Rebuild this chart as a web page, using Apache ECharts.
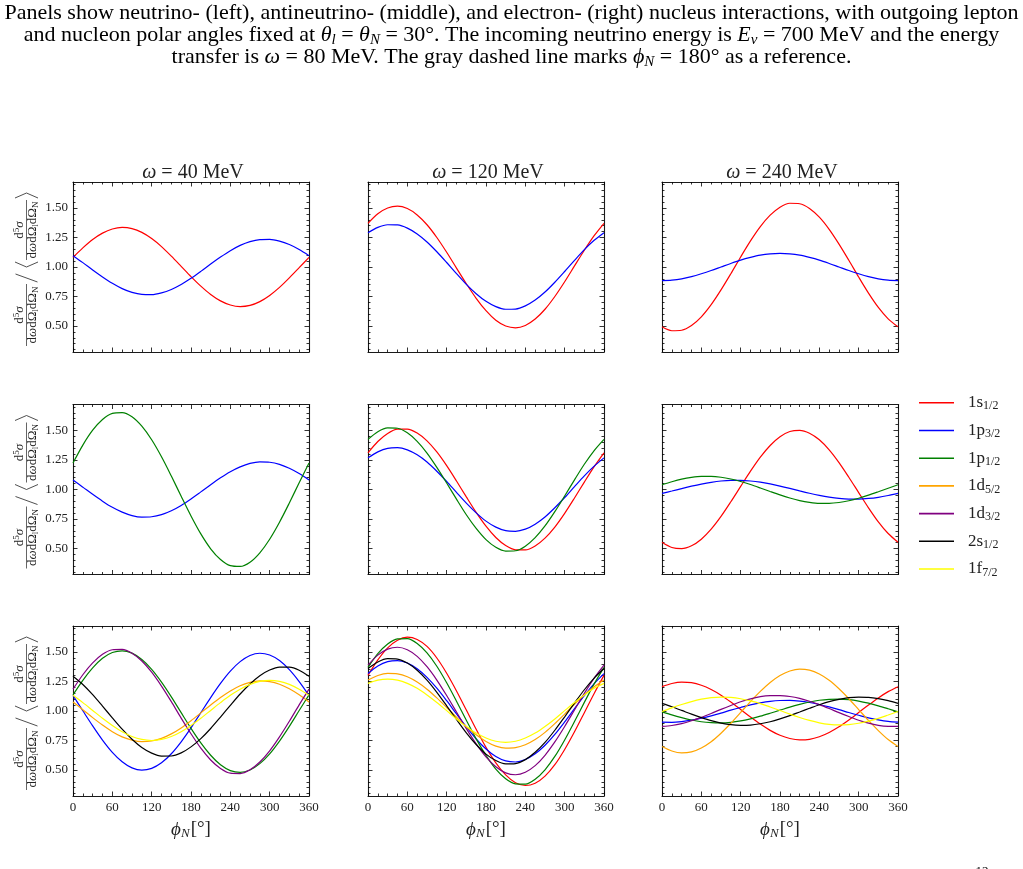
<!DOCTYPE html>
<html>
<head>
<meta charset="utf-8">
<script src="https://cdn.jsdelivr.net/npm/echarts@6/dist/echarts.min.js"></script>
<style>
  html, body { margin: 0; padding: 0; background: #fff; }
  #main { width: 1023px; height: 869px; }
</style>
</head>
<body>
<div id="main"></div>
<script>
// azimuthal angle of the nucleon, degrees (15 deg steps)
var phiDeg = [0, 15, 30, 45, 60, 75, 90, 105, 120, 135, 150, 165, 180,
              195, 210, 225, 240, 255, 270, 285, 300, 315, 330, 345, 360];
var omegaMeV = [40, 120, 240];
var xTickStep = 60;
var yMajorTicks = [0.5, 0.75, 1.0, 1.25, 1.5];
var yMinorTicks = [0.3, 0.35, 0.4, 0.45, 0.55, 0.6, 0.65, 0.7, 0.8, 0.85, 0.9, 0.95,
                   1.05, 1.1, 1.15, 1.2, 1.3, 1.35, 1.4, 1.45, 1.55, 1.6, 1.65, 1.7];

// row 1
var r1c1_1s12 = [1.081, 1.162, 1.233, 1.287, 1.322, 1.335, 1.325, 1.293, 1.241, 1.173, 1.092, 1.006, 0.919,
                 0.838, 0.767, 0.713, 0.678, 0.665, 0.675, 0.707, 0.759, 0.827, 0.908, 0.994, 1.081];
var r1c1_1p32 = [1.096, 1.037, 0.975, 0.916, 0.862, 0.817, 0.785, 0.768, 0.766, 0.781, 0.81, 0.852, 0.904,
                 0.963, 1.025, 1.084, 1.138, 1.183, 1.215, 1.232, 1.234, 1.219, 1.19, 1.148, 1.096];
var r1c2_1s12 = [1.370, 1.451, 1.500, 1.515, 1.495, 1.441, 1.358, 1.250, 1.125, 0.991, 0.858, 0.735, 0.630,
                 0.549, 0.500, 0.485, 0.505, 0.559, 0.642, 0.750, 0.875, 1.009, 1.142, 1.265, 1.370];
var r1c2_1p32 = [1.291, 1.336, 1.358, 1.356, 1.329, 1.280, 1.212, 1.129, 1.038, 0.944, 0.853, 0.774, 0.709,
                 0.664, 0.642, 0.644, 0.671, 0.720, 0.788, 0.871, 0.962, 1.056, 1.147, 1.226, 1.291];
var r1c3_1s12 = [0.493, 0.460, 0.464, 0.504, 0.578, 0.681, 0.806, 0.943, 1.085, 1.221, 1.342, 1.439, 1.507,
                 1.540, 1.536, 1.496, 1.422, 1.319, 1.194, 1.057, 0.915, 0.779, 0.658, 0.561, 0.493];
var r1c3_1p32 = [0.885, 0.889, 0.900, 0.919, 0.943, 0.970, 1.0, 1.030, 1.058, 1.081, 1.100, 1.111, 1.115,
                 1.111, 1.100, 1.081, 1.058, 1.030, 1.0, 0.970, 0.943, 0.919, 0.900, 0.889, 0.885];
// row 2
var r2c1_1p32 = [1.080, 1.020, 0.959, 0.901, 0.849, 0.808, 0.779, 0.766, 0.769, 0.787, 0.820, 0.865, 0.920,
                 0.980, 1.041, 1.099, 1.151, 1.192, 1.221, 1.234, 1.231, 1.213, 1.180, 1.135, 1.080];
var r2c1_1p12 = [1.224, 1.376, 1.502, 1.593, 1.645, 1.652, 1.616, 1.536, 1.421, 1.277, 1.114, 0.943, 0.776,
                 0.624, 0.498, 0.407, 0.355, 0.348, 0.384, 0.464, 0.579, 0.723, 0.886, 1.057, 1.224];
var r2c2_1s12 = [1.311, 1.407, 1.475, 1.511, 1.512, 1.478, 1.412, 1.318, 1.202, 1.072, 0.937, 0.806, 0.689,
                 0.593, 0.525, 0.489, 0.488, 0.522, 0.588, 0.682, 0.798, 0.928, 1.063, 1.194, 1.311];
var r2c2_1p32 = [1.268, 1.319, 1.349, 1.354, 1.336, 1.294, 1.233, 1.155, 1.068, 0.975, 0.884, 0.802, 0.732,
                 0.681, 0.651, 0.646, 0.664, 0.706, 0.767, 0.845, 0.932, 1.025, 1.116, 1.198, 1.268];
var r2c2_1p12 = [1.425, 1.490, 1.522, 1.519, 1.480, 1.408, 1.309, 1.188, 1.055, 0.918, 0.786, 0.670, 0.575,
                 0.510, 0.478, 0.481, 0.520, 0.592, 0.691, 0.812, 0.945, 1.082, 1.214, 1.330, 1.425];
var r2c3_1s12 = [0.553, 0.509, 0.499, 0.523, 0.579, 0.664, 0.772, 0.896, 1.026, 1.155, 1.274, 1.373, 1.447,
                 1.491, 1.501, 1.477, 1.421, 1.336, 1.228, 1.104, 0.974, 0.845, 0.726, 0.627, 0.553];
var r2c3_1p32 = [0.967, 0.987, 1.008, 1.028, 1.046, 1.061, 1.072, 1.077, 1.077, 1.072, 1.062, 1.047, 1.029,
                 1.009, 0.988, 0.968, 0.950, 0.935, 0.924, 0.919, 0.919, 0.924, 0.934, 0.949, 0.967];
var r2c3_1p12 = [1.040, 1.066, 1.088, 1.103, 1.111, 1.111, 1.104, 1.089, 1.068, 1.042, 1.013, 0.983, 0.954,
                 0.928, 0.906, 0.891, 0.883, 0.883, 0.890, 0.905, 0.926, 0.952, 0.981, 1.011, 1.040];
// row 3
var r3c1_1p32 = [1.131, 1.002, 0.874, 0.754, 0.650, 0.570, 0.518, 0.499, 0.514, 0.561, 0.638, 0.739, 0.857,
                 0.986, 1.114, 1.234, 1.338, 1.418, 1.470, 1.489, 1.474, 1.427, 1.350, 1.249, 1.131];
var r3c1_1p12 = [1.137, 1.260, 1.365, 1.446, 1.495, 1.510, 1.490, 1.436, 1.353, 1.245, 1.120, 0.986, 0.853,
                 0.730, 0.625, 0.544, 0.495, 0.480, 0.500, 0.554, 0.637, 0.745, 0.870, 1.004, 1.137];
var r3c1_1d52 = [1.077, 1.011, 0.944, 0.881, 0.825, 0.781, 0.753, 0.740, 0.746, 0.768, 0.806, 0.857, 0.918,
                 0.984, 1.051, 1.114, 1.170, 1.214, 1.242, 1.255, 1.249, 1.227, 1.189, 1.138, 1.077];
var r3c1_1d32 = [1.185, 1.307, 1.407, 1.480, 1.519, 1.522, 1.490, 1.424, 1.329, 1.211, 1.079, 0.940, 0.807,
                 0.685, 0.585, 0.513, 0.473, 0.470, 0.502, 0.568, 0.663, 0.781, 0.913, 1.052, 1.185];
var r3c1_2s12 = [1.294, 1.224, 1.138, 1.041, 0.942, 0.846, 0.761, 0.691, 0.643, 0.618, 0.619, 0.645, 0.696,
                 0.766, 0.852, 0.949, 1.048, 1.144, 1.229, 1.299, 1.347, 1.372, 1.371, 1.345, 1.294];
var r3c1_1f72 = [1.133, 1.071, 1.005, 0.939, 0.878, 0.825, 0.784, 0.759, 0.750, 0.759, 0.784, 0.825, 0.878,
                 0.939, 1.005, 1.071, 1.133, 1.185, 1.226, 1.251, 1.260, 1.251, 1.226, 1.185, 1.133];

var r3c2_1s12 = [1.302, 1.433, 1.535, 1.600, 1.625, 1.606, 1.547, 1.449, 1.320, 1.170, 1.008, 0.845, 0.692,
                 0.561, 0.459, 0.393, 0.369, 0.388, 0.448, 0.545, 0.674, 0.824, 0.986, 1.149, 1.302];
var r3c2_1p32 = [1.317, 1.381, 1.418, 1.427, 1.406, 1.358, 1.285, 1.193, 1.087, 0.975, 0.865, 0.763, 0.678,
                 0.614, 0.577, 0.568, 0.589, 0.637, 0.710, 0.802, 0.908, 1.020, 1.130, 1.232, 1.317];
var r3c2_1p12 = [1.370, 1.486, 1.568, 1.611, 1.613, 1.572, 1.492, 1.379, 1.239, 1.083, 0.921, 0.764, 0.624,
                 0.508, 0.426, 0.383, 0.381, 0.422, 0.502, 0.615, 0.755, 0.911, 1.073, 1.230, 1.370];
var r3c2_1d52 = [1.262, 1.301, 1.319, 1.315, 1.290, 1.246, 1.185, 1.111, 1.030, 0.947, 0.867, 0.798, 0.742,
                 0.703, 0.685, 0.689, 0.714, 0.758, 0.819, 0.893, 0.974, 1.057, 1.137, 1.206, 1.262];
var r3c2_1d32 = [1.388, 1.473, 1.524, 1.540, 1.519, 1.463, 1.375, 1.262, 1.131, 0.991, 0.851, 0.722, 0.612,
                 0.528, 0.476, 0.460, 0.481, 0.537, 0.625, 0.738, 0.869, 1.009, 1.149, 1.278, 1.388];
var r3c2_2s12 = [1.360, 1.415, 1.443, 1.440, 1.406, 1.345, 1.261, 1.158, 1.044, 0.928, 0.815, 0.716, 0.635,
                 0.580, 0.552, 0.555, 0.588, 0.650, 0.734, 0.837, 0.951, 1.067, 1.180, 1.279, 1.360];
var r3c2_1f72 = [1.234, 1.261, 1.270, 1.261, 1.234, 1.192, 1.136, 1.072, 1.003, 0.933, 0.869, 0.813, 0.771,
                 0.744, 0.735, 0.744, 0.771, 0.813, 0.869, 0.933, 1.003, 1.072, 1.136, 1.192, 1.234];

var r3c3_1s12 = [1.206, 1.233, 1.245, 1.240, 1.218, 1.182, 1.134, 1.076, 1.013, 0.949, 0.889, 0.836, 0.794,
                 0.767, 0.755, 0.760, 0.782, 0.818, 0.866, 0.924, 0.987, 1.051, 1.111, 1.164, 1.206];
var r3c3_1p32 = [0.905, 0.904, 0.910, 0.922, 0.939, 0.959, 0.982, 1.007, 1.030, 1.052, 1.069, 1.082, 1.089,
                 1.090, 1.084, 1.072, 1.055, 1.035, 1.012, 0.987, 0.964, 0.942, 0.925, 0.912, 0.905];
var r3c3_1p12 = [0.993, 0.967, 0.944, 0.924, 0.909, 0.901, 0.899, 0.904, 0.916, 0.934, 0.956, 0.981, 1.007,
                 1.033, 1.056, 1.076, 1.091, 1.099, 1.101, 1.096, 1.084, 1.066, 1.044, 1.019, 0.993];
var r3c3_1d52 = [0.699, 0.661, 0.645, 0.654, 0.687, 0.740, 0.812, 0.896, 0.988, 1.080, 1.166, 1.242, 1.301,
                 1.339, 1.355, 1.346, 1.313, 1.260, 1.188, 1.104, 1.012, 0.920, 0.834, 0.758, 0.699];
var r3c3_1d32 = [0.869, 0.877, 0.893, 0.917, 0.946, 0.979, 1.014, 1.047, 1.078, 1.103, 1.121, 1.130, 1.131,
                 1.123, 1.107, 1.083, 1.054, 1.021, 0.986, 0.953, 0.922, 0.897, 0.879, 0.870, 0.869];
var r3c3_2s12 = [1.064, 1.036, 1.005, 0.973, 0.944, 0.918, 0.898, 0.884, 0.879, 0.881, 0.892, 0.909, 0.933,
                 0.961, 0.992, 1.023, 1.053, 1.079, 1.099, 1.113, 1.118, 1.116, 1.105, 1.088, 1.064];
var r3c3_1f72 = [0.996, 1.027, 1.055, 1.080, 1.100, 1.113, 1.118, 1.115, 1.104, 1.086, 1.063, 1.034, 1.004,
                 0.973, 0.945, 0.920, 0.900, 0.887, 0.882, 0.885, 0.896, 0.914, 0.937, 0.966, 0.996];

var stateKeys = ['1s12', '1p32', '1p12', '1d52', '1d32', '2s12', '1f72'];
var stateLabels = {
  '1s12': ['1s', '1/2'], '1p32': ['1p', '3/2'], '1p12': ['1p', '1/2'], '1d52': ['1d', '5/2'],
  '1d32': ['1d', '3/2'], '2s12': ['2s', '1/2'], '1f72': ['1f', '7/2']
};
var stateColors = {
  '1s12': '#ff0000', '1p32': '#0000ff', '1p12': '#008000', '1d52': '#ffa500',
  '1d32': '#800080', '2s12': '#000000', '1f72': '#ffff00'
};

var panels = [
  { row: 0, col: 0, curves: [['1s12', r1c1_1s12], ['1p32', r1c1_1p32]] },
  { row: 0, col: 1, curves: [['1s12', r1c2_1s12], ['1p32', r1c2_1p32]] },
  { row: 0, col: 2, curves: [['1s12', r1c3_1s12], ['1p32', r1c3_1p32]] },
  { row: 1, col: 0, curves: [['1p32', r2c1_1p32], ['1p12', r2c1_1p12]] },
  { row: 1, col: 1, curves: [['1s12', r2c2_1s12], ['1p32', r2c2_1p32], ['1p12', r2c2_1p12]] },
  { row: 1, col: 2, curves: [['1s12', r2c3_1s12], ['1p32', r2c3_1p32], ['1p12', r2c3_1p12]] },
  { row: 2, col: 0, curves: [['1p32', r3c1_1p32], ['1p12', r3c1_1p12], ['1d52', r3c1_1d52],
                             ['1d32', r3c1_1d32], ['2s12', r3c1_2s12], ['1f72', r3c1_1f72]] },
  { row: 2, col: 1, curves: [['1s12', r3c2_1s12], ['1p32', r3c2_1p32], ['1p12', r3c2_1p12], ['1d52', r3c2_1d52],
                             ['1d32', r3c2_1d32], ['2s12', r3c2_2s12], ['1f72', r3c2_1f72]] },
  { row: 2, col: 2, curves: [['1s12', r3c3_1s12], ['1p32', r3c3_1p32], ['1p12', r3c3_1p12], ['1d52', r3c3_1d52],
                             ['1d32', r3c3_1d32], ['2s12', r3c3_2s12], ['1f72', r3c3_1f72]] }
];

var FONT = 'Liberation Serif';
var colLeft = [73, 368, 662];
var rowTop = [182, 404.5, 626];
var panelW = 236, panelH = 170;
var yMin = 0.28, yMax = 1.72;

var grids = [], xAxes = [], yAxes = [], series = [], titles = [];
var frameLine = { show: true, onZero: false, lineStyle: { color: '#1a1a1a', width: 1.1 } };
var tickStyle = { color: '#000', width: 0.8 };

panels.forEach(function (p, i) {
  grids.push({ left: colLeft[p.col], top: rowTop[p.row], width: panelW, height: panelH });
  var bottomRow = p.row === 2;
  xAxes.push({
    gridIndex: i, type: 'value', position: 'bottom', min: 0, max: 360, interval: xTickStep,
    axisLine: frameLine,
    axisTick: { show: true, inside: true, length: 4.5, lineStyle: tickStyle },
    minorTick: { show: true, splitNumber: 4, length: 2.5, lineStyle: tickStyle },
    axisLabel: { show: bottomRow, fontFamily: FONT, fontSize: 13, color: '#222', margin: 5 },
    splitLine: { show: false },
    name: bottomRow ? '{i|ϕ}{sb|N}[°]' : '',
    nameLocation: 'middle', nameGap: 23,
    nameTextStyle: {
      fontFamily: FONT, fontSize: 19, color: '#222',
      rich: {
        i: { fontFamily: FONT, fontSize: 19, fontStyle: 'italic', color: '#222' },
        sb: { fontFamily: FONT, fontSize: 13, fontStyle: 'italic', color: '#222', padding: [8, 1, 0, 0] }
      }
    }
  });
  xAxes.push({
    gridIndex: i, type: 'value', position: 'top', min: 0, max: 360, interval: xTickStep,
    axisLine: frameLine,
    axisTick: { show: true, inside: true, length: 4.5, lineStyle: tickStyle },
    minorTick: { show: true, splitNumber: 4, length: 2.5, lineStyle: tickStyle },
    axisLabel: { show: false }, splitLine: { show: false }
  });
  ['left', 'right'].forEach(function (side) {
    var labelled = side === 'left' && p.col === 0;
    yAxes.push({
      gridIndex: i, type: 'value', position: side, min: yMin, max: yMax,
      axisLine: frameLine,
      axisTick: { show: true, inside: true, length: 4.5, lineStyle: tickStyle, customValues: yMajorTicks },
      axisLabel: {
        show: labelled, customValues: yMajorTicks, fontFamily: FONT, fontSize: 13, color: '#222', margin: 5,
        formatter: function (v) { return v.toFixed(2); }
      },
      splitLine: { show: false }
    });
    yAxes.push({
      gridIndex: i, type: 'value', position: side, min: yMin, max: yMax,
      axisLine: { show: false, onZero: false },
      axisTick: { show: true, inside: true, length: 2.5, lineStyle: tickStyle, customValues: yMinorTicks },
      axisLabel: { show: false }, splitLine: { show: false }
    });
  });
  p.curves.forEach(function (c) {
    var vals = c[1];
    series.push({
      name: c[0], type: 'line', xAxisIndex: 2 * i, yAxisIndex: 4 * i,
      data: phiDeg.map(function (ph, k) { return [ph, vals[k]]; }),
      smooth: 0.3, symbol: 'none', showSymbol: false,
      lineStyle: { color: stateColors[c[0]], width: 1.2 },
      itemStyle: { color: stateColors[c[0]] },
      z: 2 + stateKeys.indexOf(c[0])
    });
  });
});

omegaMeV.forEach(function (w, c) {
  titles.push({
    text: '{i|ω} = ' + w + ' MeV',
    left: colLeft[c] + panelW / 2 - 3, top: 158, textAlign: 'center',
    textStyle: {
      fontFamily: FONT, fontSize: 20, fontWeight: 'normal', color: '#222',
      rich: { i: { fontFamily: FONT, fontSize: 20, fontStyle: 'italic', color: '#222' } }
    }
  });
});

// rotated y axis label: fraction / < fraction >
function yLabel(cx, cy) {
  var rich = {
    sup: { fontFamily: FONT, fontSize: 9, padding: [0, 0, 6, 0], fill: '#222' },
    g: { fontFamily: FONT, fontSize: 13, fontStyle: 'italic', fill: '#222' },
    sb: { fontFamily: FONT, fontSize: 9, padding: [5, 0, 0, 0], fill: '#222' }
  };
  function frac(x0, len) {
    return [
      { type: 'text', style: { text: 'd{sup|5}{g|σ}', x: x0, y: -6.5, align: 'center', verticalAlign: 'middle',
        fontFamily: FONT, fontSize: 13, fill: '#222', rich: rich } },
      { type: 'line', shape: { x1: x0 - len / 2, y1: 0, x2: x0 + len / 2, y2: 0 },
        style: { stroke: '#222', lineWidth: 0.7 } },
      { type: 'text', style: { text: 'd{g|ω}dΩ{sb|l}dΩ{sb|N}', x: x0, y: 6.5, align: 'center', verticalAlign: 'middle',
        fontFamily: FONT, fontSize: 13, fill: '#222', rich: rich } }
    ];
  }
  var kids = frac(-50, 62).concat(frac(35, 60));
  kids.push({ type: 'line', shape: { x1: -17, y1: 11, x2: -9, y2: -11 }, style: { stroke: '#222', lineWidth: 0.8 } });
  kids.push({ type: 'polyline', shape: { points: [[3, -11.5], [-2, 0], [3, 11.5]] }, style: { stroke: '#222', fill: null, lineWidth: 0.8 } });
  kids.push({ type: 'polyline', shape: { points: [[67, -11.5], [72, 0], [67, 11.5]] }, style: { stroke: '#222', fill: null, lineWidth: 0.8 } });
  return { type: 'group', x: cx, y: cy, rotation: Math.PI / 2, children: kids };
}

var capRich = {
  i: { fontFamily: FONT, fontSize: 22, fontStyle: 'italic', fill: '#000' },
  sb: { fontFamily: FONT, fontSize: 15, fontStyle: 'italic', fill: '#000', padding: [9, 0, 0, 0] }
};
var captionLines = [
  'Panels show neutrino- (left), antineutrino- (middle), and electron- (right) nucleus interactions, with outgoing lepton',
  'and nucleon polar angles fixed at {i|θ}{sb|l} = {i|θ}{sb|N} = 30°. The incoming neutrino energy is {i|E}{sb|ν} = 700 MeV and the energy',
  'transfer is {i|ω} = 80 MeV. The gray dashed line marks {i|ϕ}{sb|N} = 180° as a reference.'
];
var captionY = [13, 35.5, 57.5];

var graphics = [];
captionLines.forEach(function (t, k) {
  graphics.push({ type: 'text', style: { text: t, x: 511.5, y: captionY[k], align: 'center', verticalAlign: 'middle',
    fontFamily: FONT, fontSize: 22, fill: '#000', rich: capRich } });
});
rowTop.forEach(function (t) { graphics.push(yLabel(26.5, t + 83)); });
graphics.push({ type: 'text', style: { text: '12', x: 982, y: 865, align: 'center', verticalAlign: 'top',
  fontFamily: FONT, fontSize: 13, fill: '#000' } });

var myChart = echarts.init(document.getElementById('main'));
var option = {
  animation: false,
  backgroundColor: '#ffffff',
  title: titles,
  grid: grids,
  xAxis: xAxes,
  yAxis: yAxes,
  legend: {
    data: stateKeys, orient: 'vertical', left: 919, top: 393.3, padding: 0,
    itemWidth: 35, itemHeight: 1.6, itemGap: 8.7, icon: 'rect', selectedMode: false,
    formatter: function (name) { return '{sp|}' + stateLabels[name][0] + '{sb|' + stateLabels[name][1] + '}'; },
    textStyle: {
      fontFamily: FONT, fontSize: 17, color: '#222', lineHeight: 18,
      rich: {
        sp: { width: 9 },
        sb: { fontFamily: FONT, fontSize: 12, color: '#222', padding: [7, 0, 0, 0], lineHeight: 18 }
      }
    }
  },
  graphic: { elements: graphics },
  series: series
};
myChart.setOption(option);
</script>
</body>
</html>
